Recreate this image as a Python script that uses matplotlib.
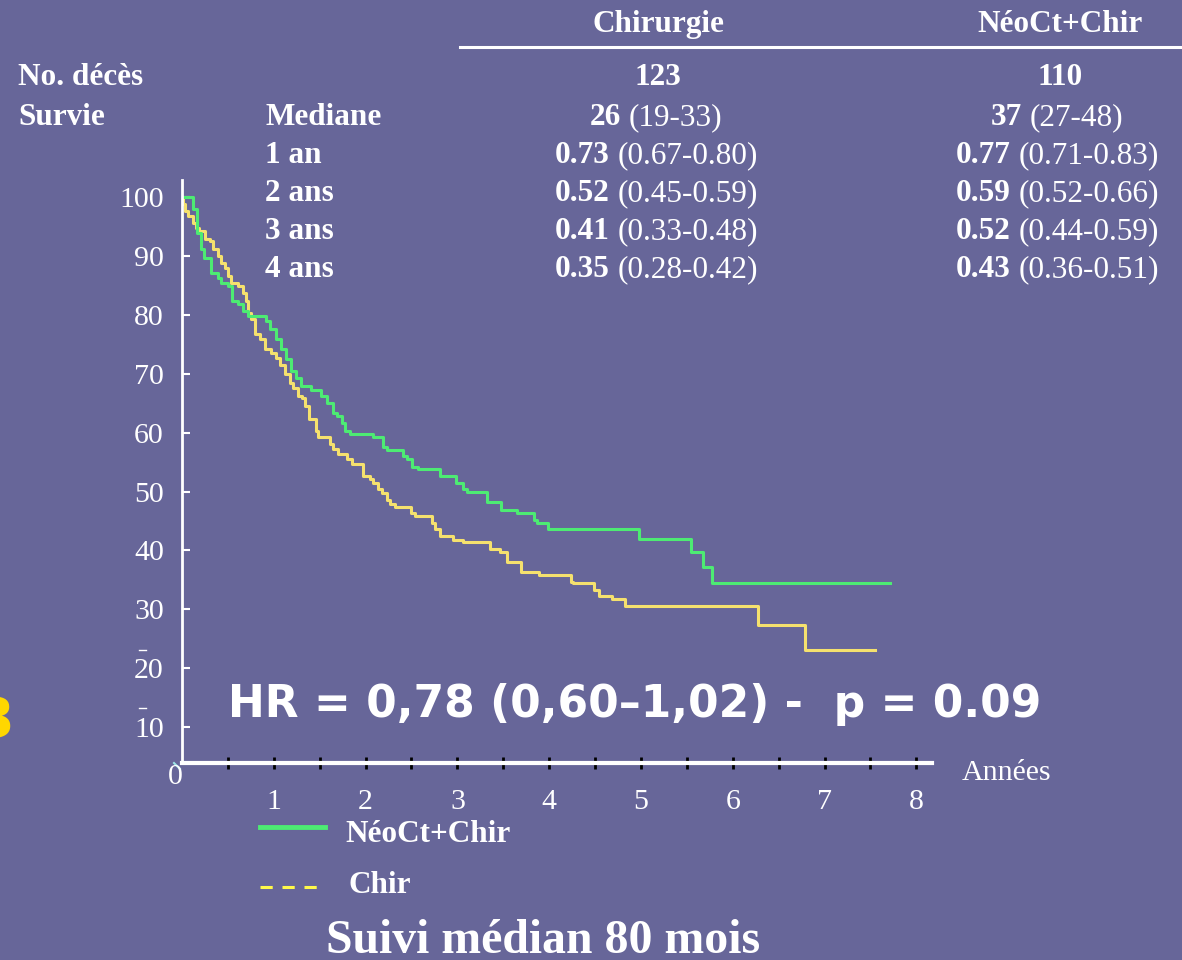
import numpy as np
import matplotlib.pyplot as plt
from matplotlib.lines import Line2D

BG = '#676699'
GREEN = '#4DEB73'
YELLOW = '#F5E16E'
SERIF = 'Liberation Serif'

# Kaplan-Meier curves (years, survival %), step changes
neo_t = [0, 0.12, 0.16, 0.21, 0.24, 0.32, 0.39, 0.42, 0.50, 0.54, 0.61, 0.66, 0.72,
         0.91, 0.96, 1.02, 1.08, 1.13, 1.19, 1.24, 1.30, 1.40, 1.51, 1.58, 1.65, 1.69,
         1.74, 1.78, 1.83, 2.08, 2.19, 2.23, 2.41, 2.45, 2.51, 2.57, 2.81, 2.99, 3.06,
         3.11, 3.32, 3.47, 3.65, 3.83, 3.87, 3.99, 4.98, 5.55, 5.67, 5.77, 7.71]
neo_s = [100, 98.0, 93.9, 91.2, 89.7, 87.1, 86.3, 85.4, 84.9, 82.4, 81.9, 80.7, 79.8,
         79.0, 77.6, 75.9, 74.2, 72.5, 70.5, 69.2, 68.0, 67.3, 66.3, 65.1, 63.4, 62.9,
         61.7, 60.3, 59.8, 59.2, 57.5, 57.1, 56.1, 55.6, 54.1, 53.9, 52.7, 51.4, 50.5,
         50.0, 48.3, 46.8, 46.3, 45.1, 44.6, 43.6, 41.9, 39.7, 37.1, 34.4, 34.4]

chir_t = [0, 0.01, 0.03, 0.07, 0.12, 0.15, 0.19, 0.25, 0.31, 0.34, 0.39, 0.43, 0.47,
          0.50, 0.53, 0.61, 0.66, 0.70, 0.72, 0.75, 0.80, 0.85, 0.90, 0.97, 1.02, 1.07,
          1.12, 1.18, 1.21, 1.26, 1.31, 1.34, 1.38, 1.46, 1.48, 1.61, 1.65, 1.70, 1.80,
          1.85, 1.97, 2.05, 2.08, 2.14, 2.18, 2.23, 2.27, 2.32, 2.49, 2.54, 2.72, 2.76,
          2.81, 2.95, 3.06, 3.36, 3.46, 3.54, 3.69, 3.89, 4.24, 4.26, 4.49, 4.54, 4.68,
          4.83, 6.27, 6.79, 7.55]
chir_s = [100, 98.8, 97.6, 96.8, 95.6, 94.7, 94.2, 92.9, 92.5, 91.2, 90.0, 88.8, 88.0,
          86.6, 85.4, 84.9, 83.7, 82.4, 80.3, 79.3, 76.8, 75.9, 74.2, 73.6, 72.7, 71.4,
          70.0, 68.5, 67.5, 66.3, 65.8, 64.6, 62.4, 60.3, 59.2, 58.1, 57.3, 56.4, 55.6,
          54.7, 52.7, 52.2, 51.4, 50.5, 49.7, 48.5, 47.8, 47.3, 46.4, 45.8, 44.7, 43.7,
          42.5, 41.7, 41.4, 40.3, 39.7, 38.1, 36.4, 35.9, 34.7, 34.4, 33.2, 32.2, 31.7,
          30.5, 27.3, 23.1, 23.1]

# summary table
groups = ['Chirurgie', 'NéoCt+Chir']
deces = ['123', '110']
row_labels = ['Mediane', '1 an', '2 ans', '3 ans', '4 ans']
chir_est = ['26', '0.73', '0.52', '0.41', '0.35']
chir_ci = ['(19-33)', '(0.67-0.80)', '(0.45-0.59)', '(0.33-0.48)', '(0.28-0.42)']
neo_est = ['37', '0.77', '0.59', '0.52', '0.43']
neo_ci = ['(27-48)', '(0.71-0.83)', '(0.52-0.66)', '(0.44-0.59)', '(0.36-0.51)']

y_ticks = [10, 20, 30, 40, 50, 60, 70, 80, 90, 100]
x_labels = [1, 2, 3, 4, 5, 6, 7, 8]

W, H = 1182, 960


def fx(x):
    return x / W


def fy(y):
    return 1 - y / H


fig = plt.figure(figsize=(W / 100, H / 100), dpi=100, facecolor=BG)
ax = fig.add_axes([fx(182), fy(763), 750 / W, (763 - 180) / H])
ax.set_facecolor(BG)

ax.step(chir_t, chir_s, where='post', color=YELLOW, lw=2.2)
ax.step(neo_t, neo_s, where='post', color=GREEN, lw=2.2)

ax.set_xlim(0, 8.17)
ax.set_ylim(3.9, 102.9)
for side in ['top', 'right']:
    ax.spines[side].set_visible(False)
ax.spines['left'].set_color('white')
ax.spines['left'].set_linewidth(2)
ax.spines['bottom'].set_color('white')
ax.spines['bottom'].set_linewidth(3)

ax.set_yticks(y_ticks)
ax.set_yticklabels([str(v) for v in y_ticks], family=SERIF)
ax.tick_params(axis='y', direction='in', length=6, width=1.5, color='white',
               labelcolor='white', labelsize=21.5, pad=13)

xt = np.arange(0.5, 8.01, 0.5)
ax.set_xticks(xt)
ax.set_xticklabels([str(int(v)) if int(v) in x_labels and v == int(v) else '' for v in xt],
                   family=SERIF)
ax.tick_params(axis='x', direction='inout', length=9, width=2, color='black',
               labelcolor='white', labelsize=21.5, pad=14)

fig.text(fx(175), fy(777), '0', color='white', fontsize=21.5, family=SERIF,
         ha='center', va='center')
fig.text(fx(962), fy(773), 'Années', color='white', fontsize=21.5, family=SERIF,
         ha='left', va='center')

fig.text(fx(228), fy(717), 'HR = 0,78 (0,60–1,02) -  p = 0.09', color='white',
         fontsize=31.7, fontweight='bold', family='DejaVu Sans', ha='left', va='baseline')

fig.text(fx(14), fy(722), '3', color='#FFD700', fontsize=40, fontweight='bold',
         family='DejaVu Sans', ha='right', va='center')

# small stray marks
for yy in [650, 708]:
    fig.add_artist(Line2D([fx(139), fx(146)], [fy(yy), fy(yy)], color='white', lw=1))
fig.add_artist(Line2D([fx(174), fx(180)], [fy(763), fy(769)], color='#9FE6E6', lw=1.5))

# legend
fig.add_artist(Line2D([fx(260), fx(325)], [fy(827), fy(827)], color=GREEN, lw=3.5))
fig.add_artist(Line2D([fx(260), fx(325)], [fy(887), fy(887)], color='#FFF94A', lw=2.2,
                      dashes=(4, 3.2)))
fig.text(fx(345), fy(842), 'NéoCt+Chir', color='white', fontsize=22.5,
         fontweight='bold', family=SERIF, ha='left', va='baseline')
fig.text(fx(348), fy(893), 'Chir', color='white', fontsize=22.5,
         fontweight='bold', family=SERIF, ha='left', va='baseline')

fig.text(fx(326), fy(953), 'Suivi médian 80 mois', color='white', fontsize=34.4,
         fontweight='bold', family=SERIF, ha='left', va='baseline')

# table
TS = 22.5
col_x = [658, 1060]
fig.add_artist(Line2D([fx(460), fx(1182)], [fy(47), fy(47)], color='white', lw=2.2))
for xc, g in zip(col_x, groups):
    fig.text(fx(xc), fy(32), g, color='white', fontsize=TS, fontweight='bold',
             family=SERIF, ha='center', va='baseline')
fig.text(fx(18), fy(85), 'No. décès', color='white', fontsize=TS, fontweight='bold',
         family=SERIF, ha='left', va='baseline')
fig.text(fx(18), fy(125), 'Survie', color='white', fontsize=TS, fontweight='bold',
         family=SERIF, ha='left', va='baseline')
for xc, d in zip(col_x, deces):
    fig.text(fx(xc), fy(85), d, color='white', fontsize=TS, fontweight='bold',
             family=SERIF, ha='center', va='baseline')

row_y = [125, 163, 201, 239, 277]
renderer = fig.canvas.get_renderer()


def pair(xc, y, bold, normal):
    t1 = fig.text(0, fy(y), bold, color='white', fontsize=TS, fontweight='bold',
                  family=SERIF, ha='left', va='baseline')
    t2 = fig.text(0, fy(y), normal, color='white', fontsize=TS,
                  family=SERIF, ha='left', va='baseline')
    w1 = t1.get_window_extent(renderer).width
    w2 = t2.get_window_extent(renderer).width
    gap = 8
    x0 = xc - (w1 + gap + w2) / 2
    t1.set_x(fx(x0))
    t2.set_x(fx(x0 + w1 + gap))


for i, lab in enumerate(row_labels):
    fig.text(fx(265), fy(row_y[i]), lab, color='white', fontsize=TS, fontweight='bold',
             family=SERIF, ha='left', va='baseline')
    pair(656, row_y[i], chir_est[i], chir_ci[i])
    pair(1057, row_y[i], neo_est[i], neo_ci[i])

fig.savefig('out.png', dpi=100, facecolor=BG)
